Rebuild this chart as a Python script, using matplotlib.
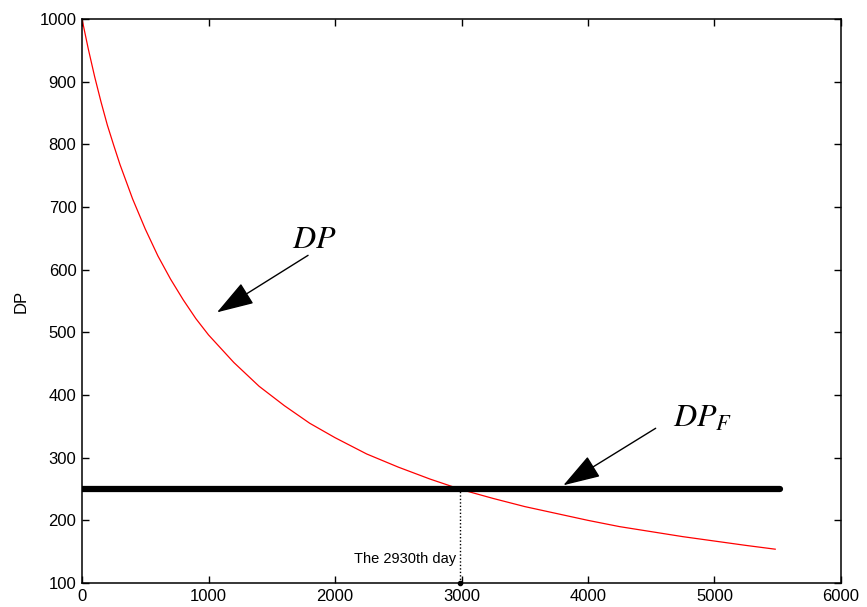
import numpy as np
import matplotlib.pyplot as plt

plt.rcParams['font.family'] = ['Liberation Sans', 'DejaVu Sans']

# values
days = [0, 50, 100, 150, 200, 250, 300, 400, 500, 600, 700, 800, 900, 1000,
        1200, 1400, 1600, 1800, 2000, 2250, 2500, 2750, 3000, 3250, 3500,
        3750, 4000, 4250, 4500, 4750, 5000, 5250, 5480]
dp = [1000, 952, 908, 868, 831, 799, 768, 713, 665, 622, 585, 552, 522, 496,
      452, 414, 383, 355, 332, 306, 285, 266, 249, 235, 222, 211, 200, 190,
      182, 174, 167, 160, 154]
dpf_days = [0, 5520]
dpf = [250, 250]
cross_x = 2985          # where the dotted marker sits in the picture
cross_label = 'The 2930th day'

fig = plt.figure(figsize=(8.67, 6.07), dpi=100)
ax = fig.add_axes([0.0946, 0.0395, 0.8754, 0.929])

ax.plot(days, dp, color='red', linewidth=0.9)
ax.plot(dpf_days, dpf, color='black', linewidth=4.5, solid_capstyle='round')
ax.plot([cross_x, cross_x], [100, 250], color='black',
        linestyle=(0, (1, 1.5)), linewidth=1)
ax.plot([cross_x], [100], 'o', color='black', markersize=3, clip_on=False)

ax.text(cross_x - 25, 138, cross_label, ha='right', va='center', fontsize=10.5)

head = '-|>,head_length=1.3,head_width=0.42'
ax.annotate('', xy=(1067, 532), xytext=(1787, 623),
            arrowprops=dict(arrowstyle=head, mutation_scale=18, color='black',
                            lw=1, shrinkA=0, shrinkB=0))
ax.text(1660, 634, '$DP$', ha='left', va='baseline', fontsize=23,
        math_fontfamily='stix')
ax.annotate('', xy=(3805, 256), xytext=(4535, 347),
            arrowprops=dict(arrowstyle=head, mutation_scale=18, color='black',
                            lw=1, shrinkA=0, shrinkB=0))
ax.text(4672, 349, '$DP_F$', ha='left', va='baseline', fontsize=23,
        math_fontfamily='stix')

ax.set_xlim(0, 6000)
ax.set_ylim(100, 1000)
ax.set_xticks(np.arange(0, 6001, 1000))
ax.set_yticks(np.arange(100, 1001, 100))
ax.tick_params(direction='in', top=True, right=True, length=5, width=1,
               labelsize=12, pad=4)
for s in ax.spines.values():
    s.set_linewidth(1.1)
ax.set_ylabel('DP', fontsize=12, labelpad=8)

fig.savefig('out.png', dpi=100)
